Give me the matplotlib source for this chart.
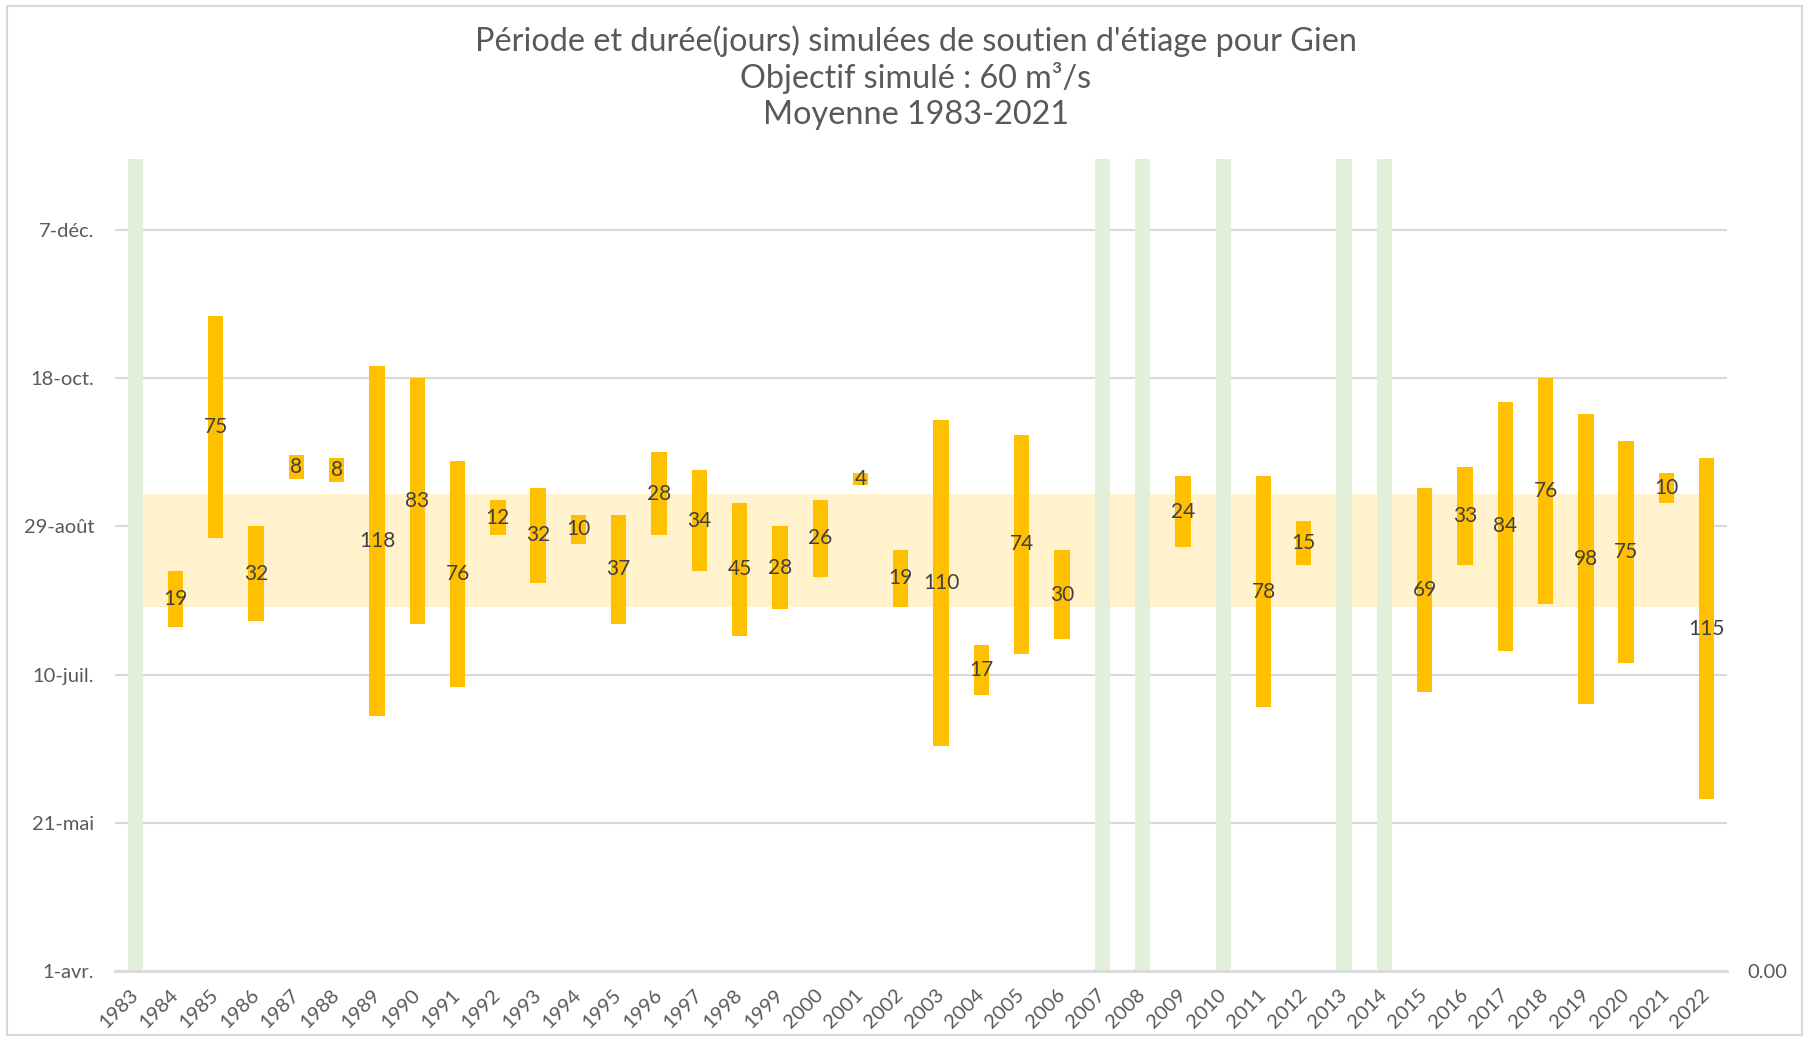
import numpy as np
import matplotlib.pyplot as plt
from matplotlib.patches import Rectangle

plt.rcParams['font.family'] = ['Lato', 'DejaVu Sans']

#%% Donnees
nan = np.nan
annees = [str(a) for a in range(1983, 2023)]

# debut du soutien (jours depuis le 1er avril) et duree (jours)
debut = [nan, 116, 146, 118, 166, 165, 86, 117, 96, 147,
         131, 144, 117, 147, 135, 113, 122, 133, 164, 123,
         76, 93, 107, 112, nan, nan, 143, nan, 89, 137,
         nan, nan, 94, 137, 108, 124, 90, 104, 158, 58]
duree = [nan, 19, 75, 32, 8, 8, 118, 83, 76, 12,
         32, 10, 37, 28, 34, 45, 28, 26, 4, 19,
         110, 17, 74, 30, nan, nan, 24, nan, 78, 15,
         nan, nan, 69, 33, 84, 76, 98, 75, 10, 115]

# annees sans soutien d'etiage
annees_sans = ['1983', '2007', '2008', '2010', '2013', '2014']
hauteur_sans = 274

# periode moyenne 1983-2021
moy_debut = 123
moy_fin = 161

ticks_jours = [0, 50, 100, 150, 200, 250]
ticks_dates = ['1-avr.', '21-mai', '10-juil.', '29-août', '18-oct.', '7-déc.']

titres = ["Période et durée(jours) simulées de soutien d'étiage pour Gien",
          "Objectif simulé : 60 m³/s",
          "Moyenne 1983-2021"]

#%% Figure
gris_txt = '#595959'
gris_grille = '#D9D9D9'
orange = '#FFC000'
vert = '#E2EFDA'
jaune_pale = '#FFF2CC'

fig = plt.figure(figsize=(18.06, 10.39), dpi=100)
ax = fig.add_axes([0.0637, 0.0654, 0.8925, 0.7816])

x = np.arange(len(annees))
largeur = 0.38

# bande moyenne
ax.fill_between(x, moy_debut, moy_fin, color=jaune_pale, lw=0, zorder=1)

# annees sans soutien
idx_sans = [annees.index(a) for a in annees_sans]
ax.bar(idx_sans, [hauteur_sans] * len(idx_sans), width=largeur,
       color=vert, zorder=2)

# periodes de soutien
ax.bar(x, duree, bottom=debut, width=largeur, color=orange, zorder=3)
for xi, d0, d in zip(x, debut, duree):
    if np.isnan(d):
        continue
    ax.text(xi, d0 + d / 2, f'{d:.0f}', ha='center', va='center',
            fontsize=15, color='#404040', zorder=4)

# axes
ax.set_xlim(-0.5, len(annees) - 0.5)
ax.set_ylim(0, hauteur_sans)
ax.set_yticks(ticks_jours)
ax.set_yticklabels(ticks_dates)
ax.set_xticks(x)
ax.set_xticklabels(annees, rotation=45, ha='right', va='center',
                   rotation_mode='anchor')
ax.tick_params(axis='y', length=0, pad=15, labelsize=14.5, labelcolor=gris_txt)
ax.tick_params(axis='x', length=0, pad=15, labelsize=14.5, labelcolor=gris_txt)
ax.grid(axis='y', color=gris_grille, lw=1.5, zorder=0)
ax.set_axisbelow(True)
for s in ['top', 'right', 'left']:
    ax.spines[s].set_visible(False)
ax.spines['bottom'].set_color(gris_grille)
ax.spines['bottom'].set_linewidth(2)

# axe secondaire
ax2 = ax.twinx()
ax2.set_ylim(0, 1)
ax2.set_yticks([0])
ax2.set_yticklabels(['0.00'])
ax2.tick_params(axis='y', length=0, pad=15, labelsize=14.5, labelcolor=gris_txt)
for s in ax2.spines.values():
    s.set_visible(False)

# titre sur trois lignes
for y_titre, t in zip([0.960, 0.9246, 0.8891], titres):
    fig.text(0.507, y_titre, t, ha='center', va='center', fontsize=23.3,
             color=gris_txt)

# cadre
fig.patches.append(Rectangle((0.004, 0.004), 0.994, 0.99, transform=fig.transFigure,
                             fill=False, edgecolor=gris_grille, lw=1.5))

fig.savefig('out.png', dpi=100)
